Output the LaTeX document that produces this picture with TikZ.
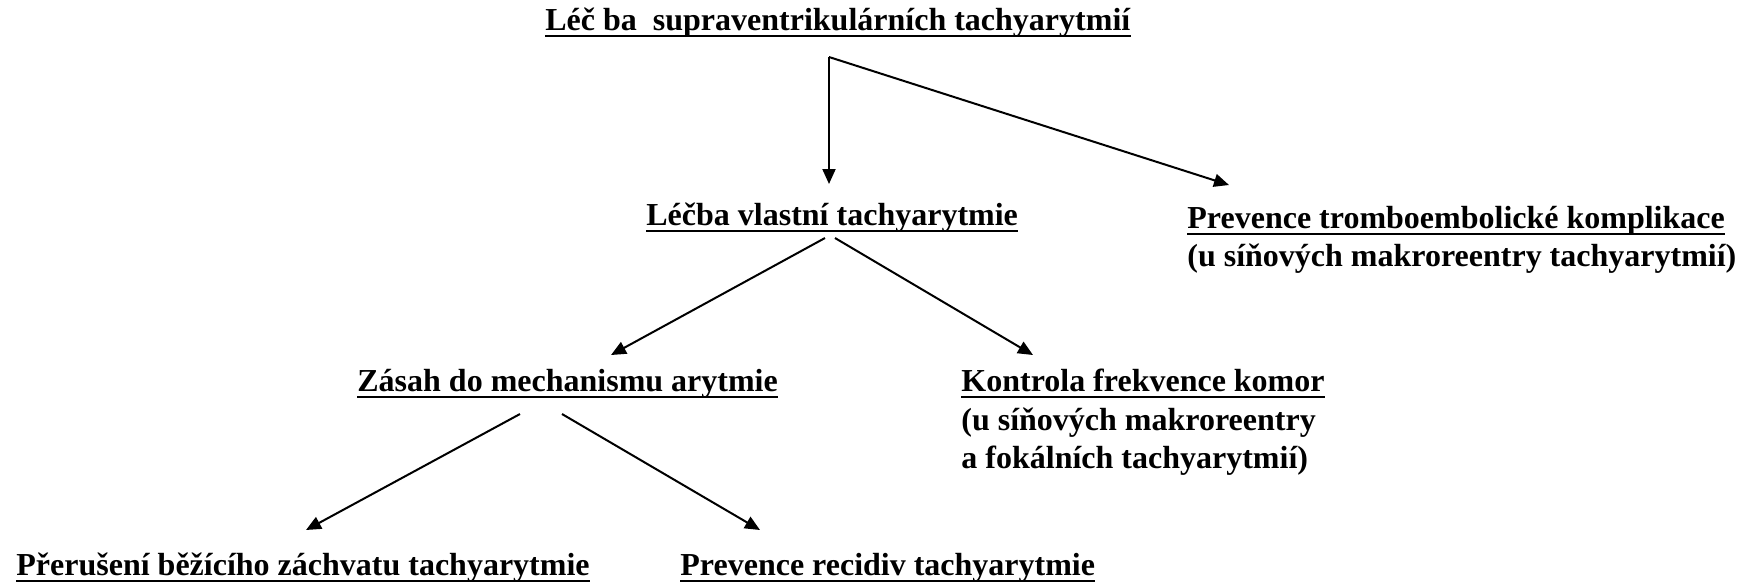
\documentclass[tikz,border=0pt]{standalone}
\usepackage{fontspec}
\setmainfont{Liberation Serif}
\usetikzlibrary{arrows.meta}
\begin{document}
\begin{tikzpicture}[x=0.5pt,y=-0.5pt,
  lbl/.style={inner sep=0pt, anchor=base west, font=\fontsize{16}{19.3}\selectfont\bfseries},
  ul/.style={line width=1.3pt},
  arr/.style={line width=1pt, -{Triangle[length=7.5pt,width=6.5pt]}}]
\useasboundingbox (0,0) rectangle (1753,586);
\newcommand\ulnode[1]{\draw[ul] ([yshift=-3pt]#1.base west) -- ([yshift=-3pt]#1.base east);}
% texts
\node[lbl] (title) at (545,30) {Léč ba\ \ supraventrikulárních tachyarytmií};
\node[lbl] (lecba) at (646,225) {Léčba vlastní tachyarytmie};
\node[lbl] (prev) at (1187,228) {Prevence tromboembolické komplikace};
\node[lbl] (prevb) at (1187,266) {(u síňových makroreentry tachyarytmií)};
\node[lbl] (zasah) at (357,391) {Zásah do mechanismu arytmie};
\node[lbl] (kontr) at (961,391) {Kontrola frekvence komor};
\node[lbl] (kontrb) at (961,430) {(u síňových makroreentry};
\node[lbl] (kontrc) at (961,468) {a fokálních tachyarytmií)};
\node[lbl] (prer) at (16,575) {Přerušení běžícího záchvatu tachyarytmie};
\node[lbl] (recid) at (680,575) {Prevence recidiv tachyarytmie};
% underlines
\ulnode{title}
\ulnode{lecba}
\ulnode{prev}
\ulnode{zasah}
\ulnode{kontr}
\ulnode{prer}
\ulnode{recid}
% connector end points
\coordinate (c0) at (829,57);
\coordinate (c1) at (829,184);
\coordinate (c2) at (1229,185);
\coordinate (s3) at (825,238);
\coordinate (e3) at (611,355);
\coordinate (s4) at (835,238);
\coordinate (e4) at (1033,355);
\coordinate (s5) at (520,414);
\coordinate (e5) at (306,530);
\coordinate (s6) at (562,414);
\coordinate (e6) at (760,530);
% connectors
\draw[arr] (c0) -- (c1);
\draw[arr] (c0) -- (c2);
\draw[arr] (s3) -- (e3);
\draw[arr] (s4) -- (e4);
\draw[arr] (s5) -- (e5);
\draw[arr] (s6) -- (e6);
\end{tikzpicture}
\end{document}
